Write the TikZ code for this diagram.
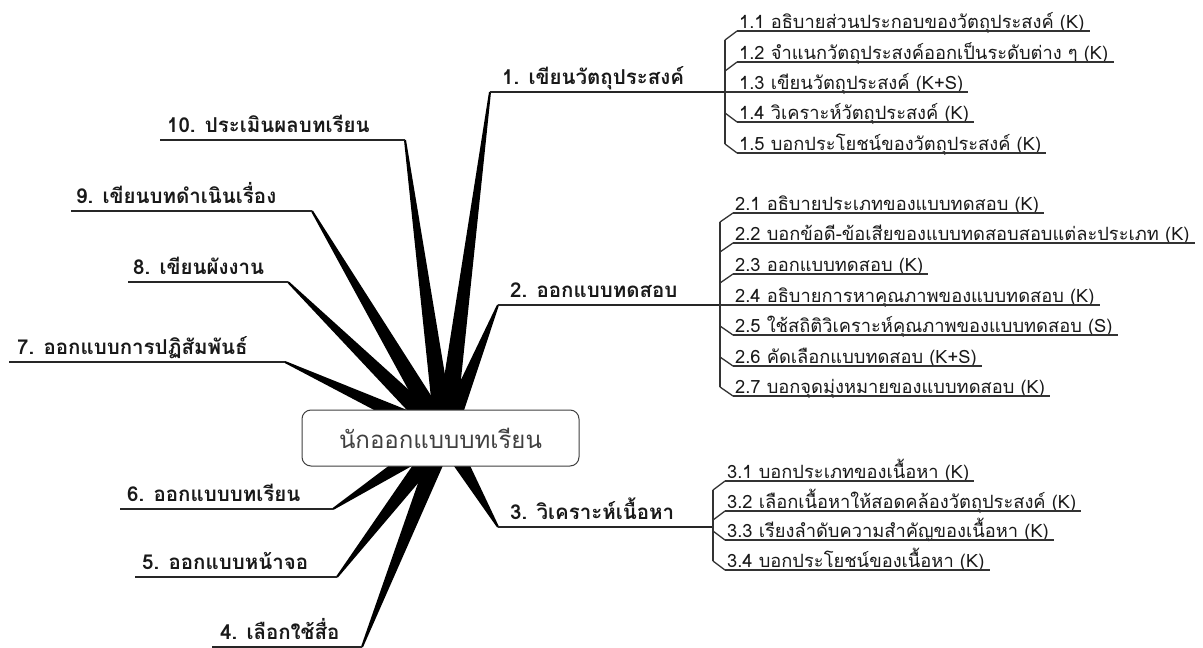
\documentclass[tikz,border=0pt]{standalone}
\usepackage{fontspec}
\newfontfamily\thaifont[Script=Thai]{Loma}
\usetikzlibrary{calc}
\newcommand\mkspike[2]{%
  \fill[spikefill] ($(#1)!10pt!90:(#2)$) -- ($(#2)!1pt!-90:(#1)$) -- ($(#2)!1pt!90:(#1)$) -- ($(#1)!10pt!-90:(#2)$) -- cycle;}
% child item: name, x of line start, y of line, text
\newcommand\kid[4]{%
  \node[subtxt] (#1) at (#2+2,#3-3) {#4};
  \draw[subline] (#2,#3) -- ($(#1.base east)+(5,3)$);}
\begin{document}
\begin{tikzpicture}[x=1pt,y=-1pt,
  subtxt/.style={font=\thaifont\fontsize{18.3}{21}\selectfont, anchor=base west, inner sep=0pt, text=black!90},
  mainlbl/.style={font=\thaifont\bfseries\fontsize{20.5}{24}\selectfont, anchor=base west, inner sep=0pt, text=black!90},
  subline/.style={draw=black!80, line width=1.3pt},
  mainline/.style={draw=black!85, line width=1.6pt},
  spikefill/.style={fill=black},
  hubbox/.style={draw=black!75, line width=1pt, rounded corners=9pt, fill=white, minimum width=277pt, minimum height=56pt, font=\thaifont\fontsize{24}{28}\selectfont, text=black!75, inner sep=0pt}
]
\useasboundingbox (0,0) rectangle (1203,648);
\fill[white] (0,0) rectangle (1203,648);

% hub and spike ends
\coordinate (hub) at (445,436);
\coordinate (e1) at (490,92);
\coordinate (e2) at (498,305);
\coordinate (e3) at (498,527);
\coordinate (e4) at (362,647);
\coordinate (e5) at (337,577);
\coordinate (e6) at (333,509);
\coordinate (e7) at (285,362);
\coordinate (e8) at (288,282);
\coordinate (e9) at (312,211);
\coordinate (e10) at (405,140);

\foreach \k in {1,...,10} {\mkspike{hub}{e\k}}

\node[hubbox] (ctr) at (440.5,438) {นักออกแบบบทเรียน};

% left main branches
\coordinate (s10) at (160,140);
\coordinate (s9) at (71,211);
\coordinate (s8) at (128,282);
\coordinate (s7) at (9,362);
\coordinate (s6) at (120,509);
\coordinate (s5) at (135,577);
\coordinate (s4) at (212,647);
\node[mainlbl] (m10) at (167,132) {10. ประเมินผลบทเรียน};
\node[mainlbl] (m9) at (76,203) {9. เขียนบทดำเนินเรื่อง};
\node[mainlbl] (m8) at (133,274) {8. เขียนผังงาน};
\node[mainlbl] (m7) at (17,354) {7. ออกแบบการปฏิสัมพันธ์};
\node[mainlbl] (m6) at (127,501) {6. ออกแบบบทเรียน};
\node[mainlbl] (m5) at (142,569) {5. ออกแบบหน้าจอ};
\node[mainlbl] (m4) at (220,639) {4. เลือกใช้สื่อ};
\foreach \k in {4,...,10} {\draw[mainline] (s\k) -- (e\k);}

% right main branches
\coordinate (b1) at (725,92);
\coordinate (b2) at (720,305);
\coordinate (b3) at (713,527);
\node[mainlbl] (m1) at (502,84) {1. เขียนวัตถุประสงค์};
\node[mainlbl] (m2) at (510,297) {2. ออกแบบทดสอบ};
\node[mainlbl] (m3) at (510,519) {3. วิเคราะห์เนื้อหา};
\draw[mainline] (e1) -- (b1);
\draw[mainline] (e2) -- (b2);
\draw[mainline] (e3) -- (b3);

% branch 1 children
\kid{c11}{737}{31}{1.1 อธิบายส่วนประกอบของวัตถุประสงค์ (K)}
\kid{c12}{737}{62}{1.2 จำแนกวัตถุประสงค์ออกเป็นระดับต่าง ๆ (K)}
\kid{c13}{737}{92}{1.3 เขียนวัตถุประสงค์ (K+S)}
\kid{c14}{737}{122}{1.4 วิเคราะห์วัตถุประสงค์ (K)}
\kid{c15}{737}{153}{1.5 บอกประโยชน์ของวัตถุประสงค์ (K)}
\draw[subline] (725,40) -- (725,144);
\draw[subline] (737,31) -- ++(-12,9);
\draw[subline] (737,62) -- ++(-12,9);
\draw[subline] (b1) -- (737,92);
\draw[subline] (737,122) -- ++(-12,-9);
\draw[subline] (737,153) -- ++(-12,-9);

% branch 2 children
\kid{c21}{733}{213}{2.1 อธิบายประเภทของแบบทดสอบ (K)}
\kid{c22}{733}{243}{2.2 บอกข้อดี-ข้อเสียของแบบทดสอบสอบแต่ละประเภท (K)}
\kid{c23}{733}{274}{2.3 ออกแบบทดสอบ (K)}
\kid{c24}{733}{305}{2.4 อธิบายการหาคุณภาพของแบบทดสอบ (K)}
\kid{c25}{733}{335}{2.5 ใช้สถิติวิเคราะห์คุณภาพของแบบทดสอบ (S)}
\kid{c26}{733}{366}{2.6 คัดเลือกแบบทดสอบ (K+S)}
\kid{c27}{733}{396}{2.7 บอกจุดมุ่งหมายของแบบทดสอบ (K)}
\draw[subline] (720,222) -- (720,387);
\draw[subline] (733,213) -- ++(-13,9);
\draw[subline] (733,243) -- ++(-13,9);
\draw[subline] (733,274) -- ++(-13,9);
\draw[subline] (b2) -- (733,305);
\draw[subline] (733,335) -- ++(-13,-9);
\draw[subline] (733,366) -- ++(-13,-9);
\draw[subline] (733,396) -- ++(-13,-9);

% branch 3 children
\kid{c31}{725}{481}{3.1 บอกประเภทของเนื้อหา (K)}
\kid{c32}{725}{511}{3.2 เลือกเนื้อหาให้สอดคล้องวัตถุประสงค์ (K)}
\kid{c33}{725}{540}{3.3 เรียงลำดับความสำคัญของเนื้อหา (K)}
\kid{c34}{725}{570}{3.4 บอกประโยชน์ของเนื้อหา (K)}
\draw[subline] (713,490) -- (713,561);
\draw[subline] (725,481) -- ++(-12,9);
\draw[subline] (725,511) -- ++(-12,9);
\draw[subline] (725,540) -- ++(-12,-9);
\draw[subline] (725,570) -- ++(-12,-9);
\end{tikzpicture}
\end{document}
